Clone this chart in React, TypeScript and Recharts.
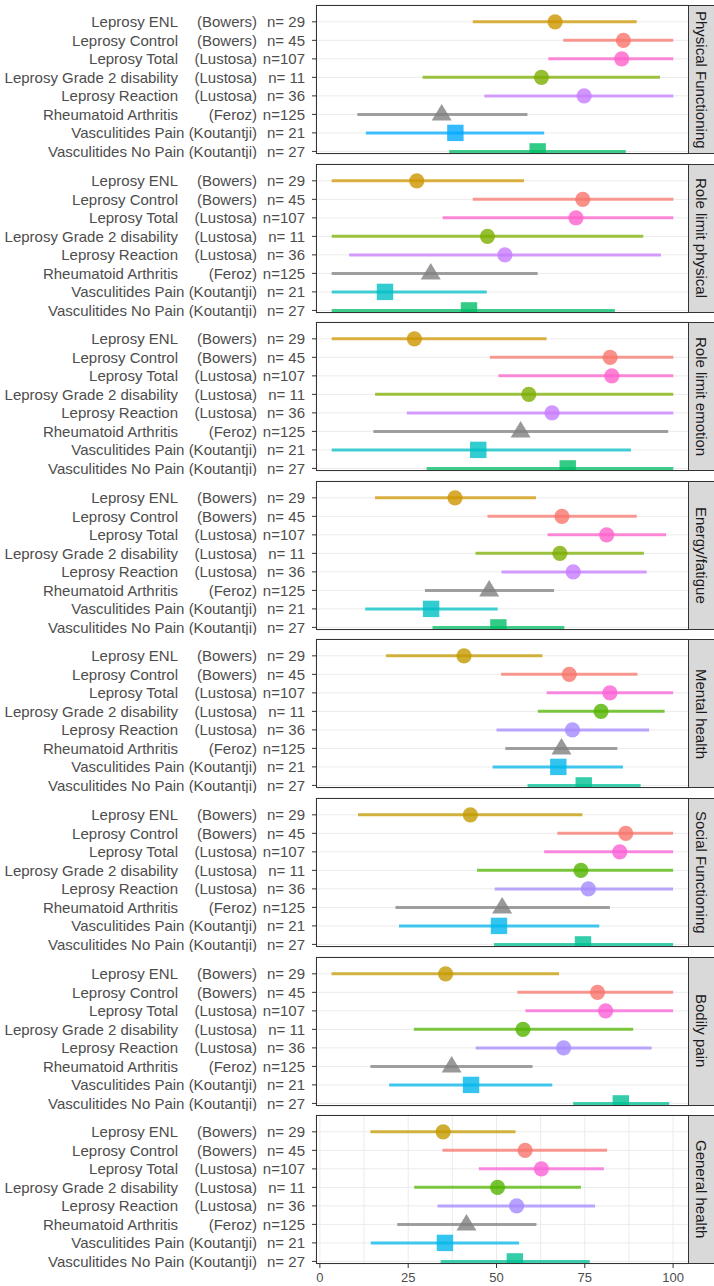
import { ComposedChart, Scatter, ErrorBar, XAxis, YAxis, CartesianGrid } from 'recharts';

const groups = [
  'Leprosy ENL',
  'Leprosy Control',
  'Leprosy Total',
  'Leprosy Grade 2 disability',
  'Leprosy Reaction',
  'Rheumatoid Arthritis',
  'Vasculitides Pain',
  'Vasculitides No Pain',
];
const sources = ['Bowers', 'Bowers', 'Lustosa', 'Lustosa', 'Lustosa', 'Feroz', 'Koutantji', 'Koutantji'];
const sampleSizes = [29, 45, 107, 11, 36, 125, 21, 27];
const shapes = ['circle', 'circle', 'circle', 'circle', 'circle', 'triangle', 'square', 'square'];

const scaleNames = [
  'Physical Functioning',
  'Role limit physical',
  'Role limit emotion',
  'Energy/fatigue',
  'Mental health',
  'Social Functioning',
  'Bodily pain',
  'General health',
];

// mean, lower and upper end of each bar, one triple per SF-36 scale
const pfMean = [65.4, 85.4, 84.9, 61.4, 73.9, 32.2, 36.2, 60.3];
const pfLow = [41.3, 67.8, 63.4, 26.6, 44.7, 7.5, 10.0, 34.4];
const pfHigh = [89.3, 100, 100, 96.1, 100, 57.3, 62.2, 86.1];

const rpMean = [24.9, 73.5, 71.5, 45.6, 50.7, 29.0, 15.6, 40.2];
const rpLow = [0, 41.3, 32.5, 0, 5.1, 0, 0, 0];
const rpHigh = [56.3, 100, 100, 91.2, 96.4, 60.3, 45.4, 82.9];

const reMean = [24.2, 81.5, 82.0, 57.7, 64.5, 55.3, 42.9, 69.1];
const reLow = [0, 46.3, 48.8, 12.7, 22.0, 12.2, 0, 27.8];
const reHigh = [62.9, 100, 100, 100, 100, 98.5, 87.6, 100];

const efMean = [36.1, 67.4, 80.5, 66.8, 70.7, 46.1, 29.1, 48.8];
const efLow = [12.7, 45.6, 63.2, 42.1, 49.7, 27.3, 9.8, 29.5];
const efHigh = [59.8, 89.3, 97.9, 91.4, 92.2, 65.1, 48.6, 68.1];

const mhMean = [40.8, 70.6, 82.1, 79.6, 71.5, 68.4, 67.5, 74.7];
const mhLow = [18.7, 51.3, 64.2, 61.7, 50.0, 52.5, 48.9, 58.8];
const mhHigh = [63.0, 89.9, 100, 97.6, 93.2, 84.2, 85.8, 90.8];

const sfMean = [42.6, 86.6, 84.9, 73.9, 76.0, 51.6, 50.7, 74.5];
const sfLow = [10.8, 67.2, 63.5, 44.5, 49.5, 21.4, 22.4, 49.3];
const sfHigh = [74.3, 100, 100, 100, 100, 82.1, 79.1, 100];

const bpMean = [35.6, 78.6, 80.9, 57.5, 69.0, 37.3, 42.8, 85.2];
const bpLow = [3.3, 55.9, 58.2, 26.6, 44.1, 14.3, 19.6, 71.7];
const bpHigh = [67.7, 100, 100, 88.7, 93.9, 60.2, 65.8, 98.9];

const ghMean = [34.9, 58.1, 62.7, 50.3, 55.7, 41.5, 35.4, 55.2];
const ghLow = [14.3, 34.7, 45.0, 26.7, 33.3, 21.9, 14.4, 34.2];
const ghHigh = [55.4, 81.3, 80.4, 73.9, 77.9, 61.3, 56.4, 76.4];

const means = [pfMean, rpMean, reMean, efMean, mhMean, sfMean, bpMean, ghMean];
const lows = [pfLow, rpLow, reLow, efLow, mhLow, sfLow, bpLow, ghLow];
const highs = [pfHigh, rpHigh, reHigh, efHigh, mhHigh, sfHigh, bpHigh, ghHigh];

const xTicks = [0, 25, 50, 75, 100];
const gridTicks = [0, 12.5, 25, 37.5, 50, 62.5, 75, 87.5, 100];
const rows = [1, 2, 3, 4, 5, 6, 7, 8];

// the upper four panels and the lower four come with slightly different palettes / x ranges
const paletteTopFirst = ['#CD9600', '#F8766D', '#FF61CC', '#7CAE00', '#C77CFF', '#808080', '#00A9FF', '#00BE67'];
const paletteTop = ['#CD9600', '#F8766D', '#FF61CC', '#7CAE00', '#C77CFF', '#808080', '#00BFC4', '#00BE67'];
const paletteBottom = ['#C49A00', '#F8766D', '#FB61D7', '#53B400', '#A58AFF', '#808080', '#00B6EB', '#00C094'];

const PANEL_H = 149;
const PANEL_LEFT = 316;
const PANEL_RIGHT = 689;
const FONT = '"Liberation Sans", Arial, sans-serif';

const makeShape = (kind: string, color: string) => (props: any) => {
  const { cx, cy } = props;
  if (cx == null || cy == null) return <g />;
  if (kind === 'triangle') {
    return (
      <path
        d={`M${cx},${cy - 10.5} L${cx + 10},${cy + 6} L${cx - 10},${cy + 6} Z`}
        fill={color}
        fillOpacity={0.8}
      />
    );
  }
  if (kind === 'square') {
    return <rect x={cx - 8.2} y={cy - 8.2} width={16.4} height={16.4} fill={color} fillOpacity={0.8} />;
  }
  return <circle cx={cx} cy={cy} r={7.6} fill={color} fillOpacity={0.8} />;
};

const YTick = (props: any) => {
  const { y, payload } = props;
  const i = payload.value - 1;
  const isVasc = groups[i].startsWith('Vasculitides');
  const style = { whiteSpace: 'pre' as const };
  return (
    <g fontFamily={FONT} fontSize={15} fill="#4D4D4D">
      {isVasc ? (
        <text x={257} y={y} dy="0.36em" textAnchor="end">
          {`${groups[i]} (${sources[i]})`}
        </text>
      ) : (
        <>
          <text x={178} y={y} dy="0.36em" textAnchor="end">
            {groups[i]}
          </text>
          <text x={257} y={y} dy="0.36em" textAnchor="end">
            {`(${sources[i]})`}
          </text>
        </>
      )}
      <text x={305} y={y} dy="0.36em" textAnchor="end" style={style}>
        {`n=${String(sampleSizes[i]).padStart(3, ' ')}`}
      </text>
      <line x1={PANEL_LEFT - 4} x2={PANEL_LEFT} y1={y} y2={y} stroke="#333" strokeWidth={1} />
    </g>
  );
};

const makeXTick = (bottom: number) => (props: any) => {
  const { x, payload } = props;
  if (!xTicks.includes(payload.value)) return <g />;
  return (
    <g>
      <line x1={x} x2={x} y1={bottom} y2={bottom + 4} stroke="#333" strokeWidth={1} />
      <text x={x} y={bottom + 18} textAnchor="middle" fontFamily={FONT} fontSize={13} fill="#4D4D4D">
        {payload.value}
      </text>
    </g>
  );
};

function Panel({ index }: { index: number }) {
  const top = 5 + index * 158.6;
  const isLast = index === scaleNames.length - 1;
  const isTop = index < 4;
  const palette = index === 0 ? paletteTopFirst : isTop ? paletteTop : paletteBottom;
  const domain = isTop ? [-4.6, 104.6] : [-1.1, 104.5];
  const chartH = isLast ? PANEL_H + 5 + 30 : PANEL_H + 10;

  return (
    <>
      <div style={{ position: 'absolute', left: 0, top: top - 5 }}>
        <ComposedChart
          width={714}
          height={chartH}
          margin={{ top: 5, right: 714 - PANEL_RIGHT, bottom: isLast ? 0 : 5, left: 0 }}
        >
          <CartesianGrid stroke="#EBEBEB" strokeWidth={1} />
          <XAxis
            type="number"
            dataKey="x"
            domain={domain}
            allowDataOverflow
            ticks={gridTicks}
            interval={0}
            height={isLast ? 30 : 0}
            axisLine={false}
            tickLine={false}
            tick={isLast ? makeXTick(PANEL_H + 5) : false}
          />
          <YAxis
            type="number"
            dataKey="row"
            domain={[0.09, 8.14]}
            reversed
            allowDataOverflow
            ticks={rows}
            interval={0}
            width={PANEL_LEFT}
            axisLine={false}
            tickLine={false}
            tick={<YTick />}
          />
          {groups.map((g, i) => (
            <Scatter
              key={g}
              name={g}
              data={[
                {
                  x: means[index][i],
                  row: i + 1,
                  err: [means[index][i] - lows[index][i], highs[index][i] - means[index][i]],
                },
              ]}
              shape={makeShape(shapes[i], palette[i])}
              isAnimationActive={false}
            >
              <ErrorBar
                dataKey="err"
                direction="x"
                width={0}
                stroke={palette[i]}
                strokeWidth={3}
                strokeOpacity={0.75}
                isAnimationActive={false}
              />
            </Scatter>
          ))}
        </ComposedChart>
      </div>
      <div
        style={{
          position: 'absolute',
          left: PANEL_LEFT,
          top,
          width: PANEL_RIGHT - PANEL_LEFT,
          height: PANEL_H,
          border: '1px solid #333',
          boxSizing: 'border-box',
          pointerEvents: 'none',
        }}
      />
      <div
        style={{
          position: 'absolute',
          left: PANEL_RIGHT - 1,
          top,
          width: 30,
          height: PANEL_H,
          background: '#D9D9D9',
          border: '1px solid #333',
          boxSizing: 'border-box',
          display: 'flex',
          alignItems: 'center',
          justifyContent: 'flex-start',
          paddingLeft: 4,
        }}
      >
        <span
          style={{
            writingMode: 'vertical-rl',
            fontFamily: FONT,
            fontSize: 15,
            color: '#1A1A1A',
            whiteSpace: 'nowrap',
          }}
        >
          {scaleNames[index]}
        </span>
      </div>
    </>
  );
}

export default function App() {
  return (
    <div
      style={{
        position: 'absolute',
        left: 0,
        top: 0,
        width: 714,
        height: 1286,
        overflow: 'hidden',
        background: '#fff',
      }}
    >
      {scaleNames.map((s, i) => (
        <Panel key={s} index={i} />
      ))}
    </div>
  );
}
